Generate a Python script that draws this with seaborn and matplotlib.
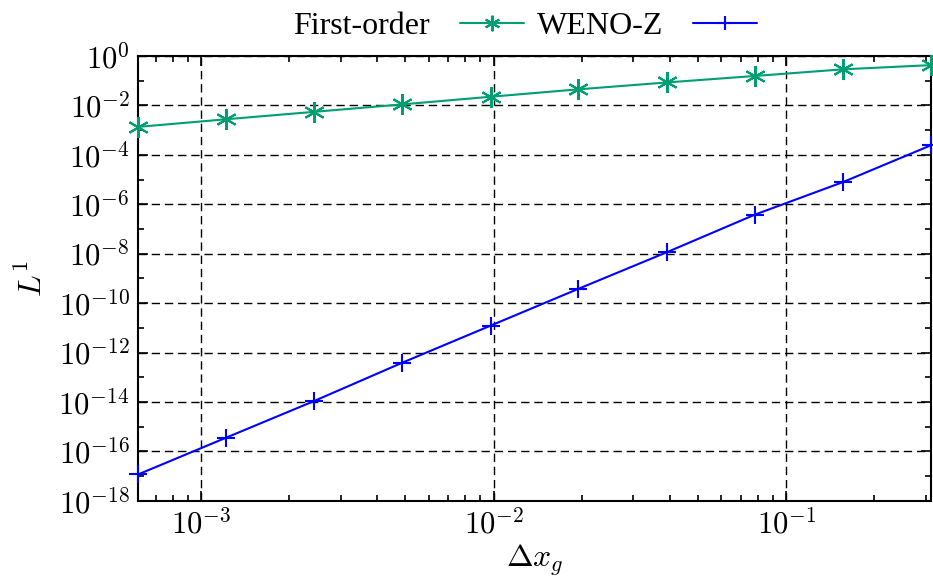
import numpy as np
import pandas as pd
import seaborn as sns
from matplotlib import pyplot as plt
from matplotlib import ticker

# grid spacing and L1 errors
dx = [0.00061, 0.00122, 0.00244, 0.00488, 0.00977, 0.0195, 0.0391, 0.0781, 0.15625, 0.3125]
err_first = [1.35e-3, 2.75e-3, 5.5e-3, 1.1e-2, 2.24e-2, 4.47e-2, 8.5e-2, 0.155, 0.288, 0.427]
err_weno = [1.17e-17, 3.6e-16, 1.1e-14, 3.9e-13, 1.23e-11, 3.8e-10, 1.15e-8, 3.8e-7, 7.9e-6, 2.45e-4]
labels = ["First-order", "WENO-Z"]
green = "#009E73"
blue = "#0000FF"

sns.set_style("ticks")
plt.rcParams["font.family"] = ["Liberation Serif", "DejaVu Serif"]
plt.rcParams["mathtext.fontset"] = "cm"
plt.rcParams["xtick.direction"] = "in"
plt.rcParams["ytick.direction"] = "in"
plt.rcParams["text.color"] = "black"
plt.rcParams["axes.labelcolor"] = "black"

conv = pd.DataFrame({"dx": dx, "first": err_first, "weno": err_weno})

fig = plt.figure(figsize=(9.33, 5.77), dpi=100)
ax = fig.add_axes([0.148, 0.132, 0.850, 0.771])
ax.set_xscale("log")
ax.set_yscale("log")

sns.lineplot(x="dx", y="first", data=conv, ax=ax, color=green, marker=(6, 2, 0),
             markersize=15, markeredgewidth=1.5, markeredgecolor=green,
             linewidth=1.5, label=labels[0], clip_on=False, zorder=3)
sns.lineplot(x="dx", y="weno", data=conv, ax=ax, color=blue, marker="+",
             markersize=13, markeredgewidth=1.5, markeredgecolor=blue,
             linewidth=1.5, label=labels[1], clip_on=False, zorder=3)

ax.set_xlim(dx[0], dx[-1])
ax.set_ylim(1e-18, 1e0)
ax.yaxis.set_major_locator(ticker.LogLocator(base=100, numticks=30))
ax.yaxis.set_minor_locator(ticker.LogLocator(base=100, subs=(10.0,), numticks=30))
ax.yaxis.set_minor_formatter(ticker.NullFormatter())

def sci(v, pos):
    return r"$10^{%d}$" % int(round(np.log10(v)))

ax.xaxis.set_major_formatter(ticker.FuncFormatter(sci))
ax.yaxis.set_major_formatter(ticker.FuncFormatter(sci))

ax.tick_params(which="both", top=True, right=True, labelsize=22, width=1.2, colors="black")
ax.tick_params(which="major", length=7, pad=6)
ax.tick_params(which="minor", length=4)
for s in ax.spines.values():
    s.set_linewidth(1.5)
    s.set_color("black")

ax.grid(True, which="major", color="black", linestyle=(0, (6, 3.5)), linewidth=1.0)

ax.set_xlabel(r"$\Delta x_g$", fontsize=23, labelpad=2)
ax.set_ylabel(r"$L^1$", fontsize=23, labelpad=7)

ax.legend(loc="lower center", bbox_to_anchor=(0.488, 1.005), ncol=2, frameon=False,
          markerfirst=False, fontsize=23, handlelength=2.0, handletextpad=0.95,
          columnspacing=0.4, borderaxespad=0.0, markerscale=0.75)

plt.savefig("out.png", dpi=100)
